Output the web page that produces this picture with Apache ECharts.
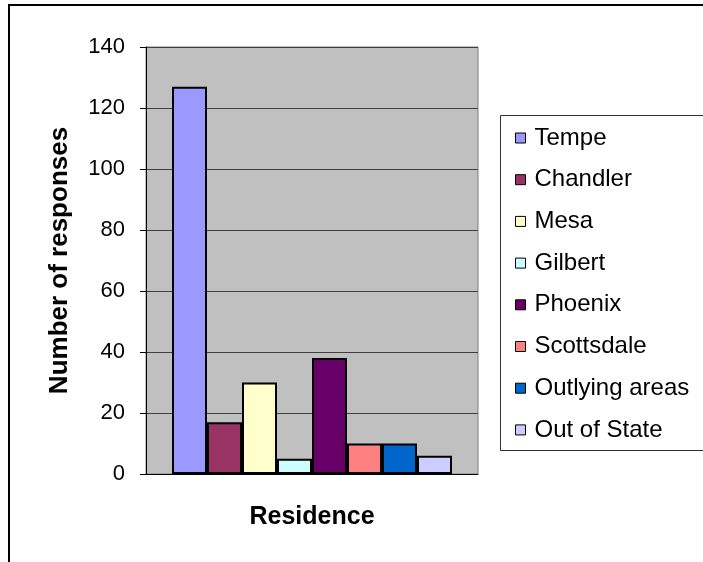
<!DOCTYPE html>
<html>
<head>
<meta charset="utf-8">
<script src="https://cdn.jsdelivr.net/npm/echarts@6/dist/echarts.min.js"></script>
<style>
  html, body { margin: 0; padding: 0; background: #fff; }
  #main { width: 703px; height: 562px; }
</style>
</head>
<body>
<div id="main"></div>
<script>
  const FONT = '"Liberation Sans", Arial, sans-serif'

  // data
  const places = ['Tempe', 'Chandler', 'Mesa', 'Gilbert', 'Phoenix', 'Scottsdale', 'Outlying areas', 'Out of State']
  const responses = [127, 17, 30, 5, 38, 10, 10, 6]
  const colors = ['#9999FF', '#993366', '#FFFFCC', '#CCFFFF', '#660066', '#FF8080', '#0066CC', '#CCCCFF']
  const yTicks = { min: 0, max: 140, interval: 20 }

  const chart = echarts.init(document.getElementById('main'))

  const series = places.map((name, i) => ({
    name: name,
    type: 'bar',
    data: [responses[i]],
    barWidth: 35,
    barGap: '0%',
    itemStyle: {
      color: colors[i],
      borderColor: '#000',
      borderWidth: 2
    }
  }))

  chart.setOption({
    animation: false,
    textStyle: { fontFamily: FONT },
    graphic: [
      // outer chart frame (only top and left edges visible)
      {
        type: 'rect',
        shape: { x: 9, y: 5, width: 800, height: 700 },
        style: { fill: 'none', stroke: '#000', lineWidth: 2 },
        z: -1
      },
      // legend box
      {
        type: 'rect',
        shape: { x: 500.5, y: 115.5, width: 220, height: 335 },
        style: { fill: '#fff', stroke: '#333', lineWidth: 1 },
        z: 0
      }
    ],
    grid: {
      left: 146,
      top: 47,
      right: 225,
      bottom: 88,
      show: true,
      backgroundColor: '#C0C0C0',
      borderColor: '#808080',
      borderWidth: 1
    },
    legend: {
      orient: 'vertical',
      left: 510,
      top: 121,
      itemWidth: 10,
      itemHeight: 10,
      itemGap: 17.7,
      icon: 'rect',
      z: 5,
      itemStyle: { borderColor: '#000', borderWidth: 1 },
      textStyle: { fontFamily: FONT, fontSize: 24, color: '#000', padding: [0, 0, 0, 4] },
      data: places
    },
    xAxis: {
      type: 'category',
      data: [''],
      name: 'Residence',
      nameLocation: 'middle',
      nameGap: 31,
      nameTextStyle: { fontFamily: FONT, fontSize: 25, fontWeight: 'bold', color: '#000' },
      axisLine: { lineStyle: { color: '#000', width: 1 } },
      axisTick: { show: false },
      axisLabel: { show: false }
    },
    yAxis: {
      type: 'value',
      min: yTicks.min,
      max: yTicks.max,
      interval: yTicks.interval,
      name: 'Number of responses',
      nameLocation: 'middle',
      nameGap: 73,
      nameTextStyle: { fontFamily: FONT, fontSize: 26, fontWeight: 'bold', color: '#000' },
      axisLine: { show: true, lineStyle: { color: '#000', width: 1 } },
      axisTick: { show: true, inside: false, length: 6, lineStyle: { color: '#000' } },
      axisLabel: { fontFamily: FONT, fontSize: 22, color: '#000', margin: 21 },
      splitLine: { lineStyle: { color: '#404040', width: 1 } }
    },
    series: series
  })

  window.addEventListener('resize', function () {
    chart.resize()
  })
</script>
</body>
</html>
